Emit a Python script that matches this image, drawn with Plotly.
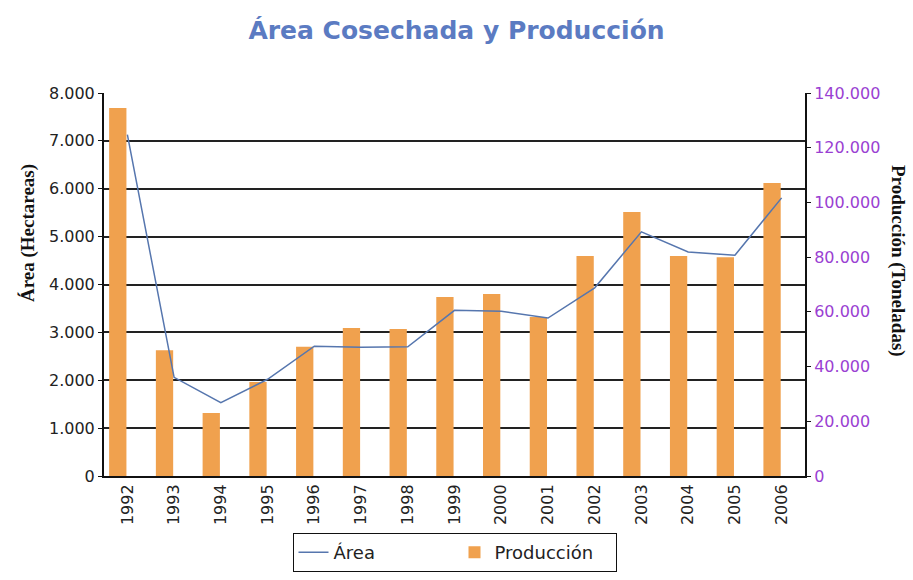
import plotly.graph_objects as go

years = ["1992","1993","1994","1995","1996","1997","1998","1999","2000","2001","2002","2003","2004","2005","2006"]
area = [7130, 2060, 1530, 2020, 2710, 2690, 2700, 3460, 3440, 3300, 3930, 5100, 4680, 4610, 5810]
produccion = [134500, 46000, 23000, 34400, 47200, 54100, 53700, 65400, 66500, 58100, 80400, 96500, 80400, 80000, 107100]

left_ticks = [0, 1000, 2000, 3000, 4000, 5000, 6000, 7000, 8000]
right_ticks = [0, 20000, 40000, 60000, 80000, 100000, 120000, 140000]

ML, MR, MT, MB = 104, 108, 93, 104
W, H = 913, 580
pw, ph = W - ML - MR, H - MT - MB

FONT = "DejaVu Sans, Verdana, Arial"
SERIF = "Liberation Serif, Times New Roman"

fig = go.Figure()
fig.add_trace(go.Bar(
    x=years, y=produccion, name="Producción", yaxis="y", legendrank=2,
    marker=dict(color="#F0A14E", line=dict(width=0)),
    width=0.37, offset=-0.39,
))
fig.add_trace(go.Scatter(
    x=years, y=area, name="Área", mode="lines", yaxis="y2", legendrank=1,
    line=dict(color="#5676AE", width=1.5),
))

fig.update_layout(
    width=W, height=H,
    paper_bgcolor="white", plot_bgcolor="white",
    separators=",.",
    margin=dict(l=ML, r=MR, t=MT, b=MB, autoexpand=False),
    title=dict(text="<b>Área Cosechada y Producción</b>", x=0.5, xanchor="center",
               y=1 - 30/H, yanchor="middle",
               font=dict(family=FONT, size=25, color="#5B7BC2")),
    font=dict(family=FONT, size=15, color="#222222"),
    xaxis=dict(
        type="category", tickangle=-90, showgrid=False,
        showline=True, linecolor="#111111", linewidth=2,
        tickfont=dict(size=16, color="#222222"), ticks="", ticklen=0,
    ),
    yaxis=dict(
        range=[0, 140000], tickvals=right_ticks, tickformat=",d",
        side="right", showgrid=False,
        showline=True, linecolor="#111111", linewidth=2,
        ticks="outside", ticklen=4, tickcolor="#111111",
        tickfont=dict(size=16, color="#9A3FD2"), zeroline=False,
    ),
    yaxis2=dict(
        range=[0, 8000], tickvals=left_ticks, tickformat=",d",
        overlaying="y", side="left",
        showgrid=True, gridcolor="#222222", gridwidth=2,
        showline=True, linecolor="#111111", linewidth=2,
        ticks="outside", ticklen=4, tickcolor="#111111",
        tickfont=dict(size=16, color="#222222"), zeroline=False,
    ),
    legend=dict(
        orientation="h", x=0.5, xanchor="center", y=-57/ph, yanchor="top",
        bordercolor="#111111", borderwidth=1, bgcolor="white",
        font=dict(size=18, color="#222222"),
        entrywidth=116, entrywidthmode="pixels",
    ),
    showlegend=True,
    annotations=[
        dict(text="<b>Área (Hectareas)</b>", x=(28 - ML)/pw, y=(H - MB - 233)/ph,
             xref="paper", yref="paper", showarrow=False, textangle=-90,
             xanchor="center", yanchor="middle",
             font=dict(family=SERIF, size=19, color="#111111")),
        dict(text="<b>Producción (Toneladas)</b>", x=(898 - ML)/pw, y=(H - MB - 261)/ph,
             xref="paper", yref="paper", showarrow=False, textangle=90,
             xanchor="center", yanchor="middle",
             font=dict(family=SERIF, size=19, color="#111111")),
    ],
)

fig.write_html("out.html", config={"displayModeBar": False},
               post_script="document.body.style.margin='0px';")
